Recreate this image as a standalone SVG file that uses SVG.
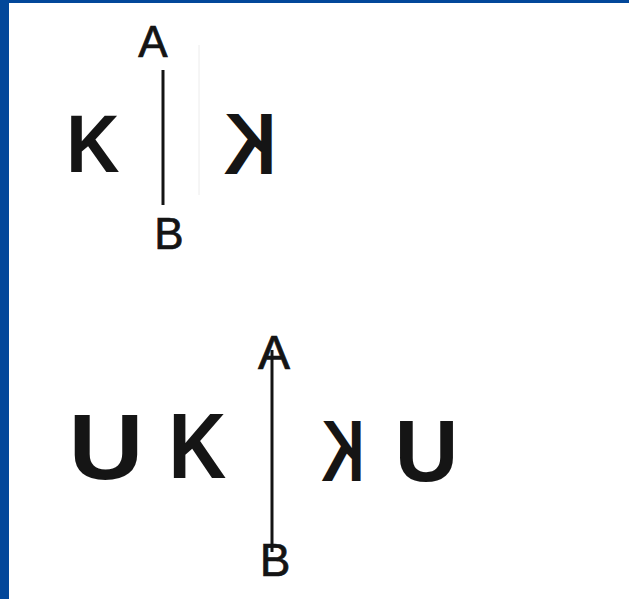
<svg xmlns="http://www.w3.org/2000/svg" width="629" height="599" viewBox="0 0 629 599">
  <style>
    .lbl { font-family: "Liberation Sans", Arial, sans-serif; fill: #141414; stroke: #141414; stroke-width: 0.7; text-anchor: middle; }
    .big { font-family: "Liberation Sans", Arial, sans-serif; font-weight: bold; fill: #151515; text-anchor: middle; }
    .axis { stroke: #141414; stroke-width: 3; fill: none; }
  </style>
  <rect x="0" y="0" width="629" height="599" fill="#ffffff"/>
  <rect x="0" y="0" width="629" height="3" fill="#02479a"/>
  <rect x="0" y="0" width="9" height="599" fill="#02479a"/>

  <g id="connectors">
    <line x1="199" y1="45" x2="199" y2="195" stroke="#ececec" stroke-width="1"/>
    <line class="axis" x1="163" y1="70" x2="163" y2="205"/>
    <line class="axis" x1="272" y1="350" x2="272" y2="552"/>
  </g>

  <g id="top-mirror">
    <text class="lbl" font-size="44" x="153" y="57">A</text>
    <text class="lbl" font-size="44" x="169" y="249">B</text>
    <text class="big" font-size="82" transform="translate(93,172) scale(0.9,1)">K</text>
    <text class="big" font-size="88" transform="translate(250,174) scale(-0.83,1)">K</text>
  </g>

  <g id="bottom-mirror">
    <text class="lbl" font-size="48" x="274" y="369">A</text>
    <text class="lbl" font-size="46" x="275" y="576">B</text>
    <text class="big" font-size="92" transform="translate(106,479) scale(1.13,1)">U</text>
    <text class="big" font-size="92" transform="translate(197.5,478) scale(0.87,1)">K</text>
    <text class="big" font-size="88" transform="translate(343,481) scale(-0.68,1)">K</text>
    <text class="big" font-size="88" transform="translate(426.5,481)">U</text>
  </g>
</svg>
